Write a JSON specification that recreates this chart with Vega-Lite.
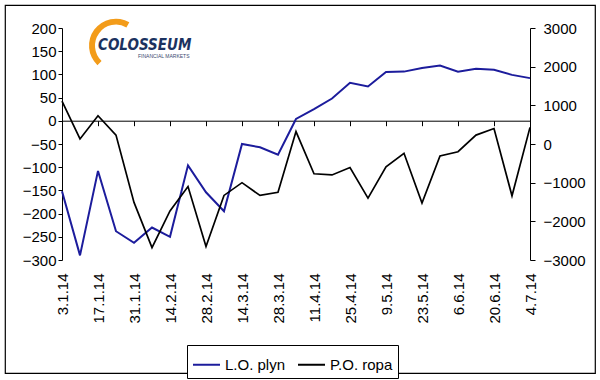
{
  "$schema": "https://vega.github.io/schema/vega-lite/v6.json",
  "width": 590,
  "height": 368,
  "padding": {"left": 5, "top": 5, "right": 5, "bottom": 7},
  "autosize": {"type": "none"},
  "background": "white",
  "config": {
    "view": {"stroke": "black", "strokeWidth": 1.2},
    "font": "Liberation Sans",
    "axis": {"grid": false, "domainColor": "black", "tickColor": "black", "labelColor": "black", "labelFontSize": 15, "labelFont": "Liberation Sans", "title": null, "labelOverlap": false},
    "legend": {"orient": "none", "legendX": 182, "legendY": 340, "direction": "horizontal", "strokeColor": "black", "fillColor": "white", "padding": 5, "symbolType": "stroke", "symbolSize": 729, "symbolStrokeWidth": 2, "labelFontSize": 15, "labelFont": "Liberation Sans", "labelColor": "black", "columnPadding": 8, "labelOffset": 4}
  },
  "data": {"values": [
    {"d": "3.1.14", "lng": -152, "oil": 1110},
    {"d": "10.1.14", "lng": -290, "oil": 130},
    {"d": "17.1.14", "lng": -108, "oil": 730},
    {"d": "24.1.14", "lng": -238, "oil": 230},
    {"d": "31.1.14", "lng": -263, "oil": -1510},
    {"d": "7.2.14", "lng": -230, "oil": -2680},
    {"d": "14.2.14", "lng": -250, "oil": -1730},
    {"d": "21.2.14", "lng": -96, "oil": -1100},
    {"d": "28.2.14", "lng": -154, "oil": -2650},
    {"d": "7.3.14", "lng": -195, "oil": -1330},
    {"d": "14.3.14", "lng": -50, "oil": -1000},
    {"d": "21.3.14", "lng": -57, "oil": -1330},
    {"d": "28.3.14", "lng": -73, "oil": -1250},
    {"d": "4.4.14", "lng": 4, "oil": 320},
    {"d": "11.4.14", "lng": 25, "oil": -770},
    {"d": "18.4.14", "lng": 48, "oil": -800},
    {"d": "25.4.14", "lng": 82, "oil": -610},
    {"d": "2.5.14", "lng": 74, "oil": -1400},
    {"d": "9.5.14", "lng": 105, "oil": -590},
    {"d": "16.5.14", "lng": 106, "oil": -240},
    {"d": "23.5.14", "lng": 114, "oil": -1530},
    {"d": "30.5.14", "lng": 119, "oil": -310},
    {"d": "6.6.14", "lng": 106, "oil": -200},
    {"d": "13.6.14", "lng": 112, "oil": 230},
    {"d": "20.6.14", "lng": 110, "oil": 400},
    {"d": "27.6.14", "lng": 99, "oil": -1340},
    {"d": "4.7.14", "lng": 92, "oil": 430}
  ]},
  "layer": [
    {
      "layer": [
        {
          "mark": {"type": "line", "strokeWidth": 2},
          "encoding": {
            "x": {"field": "d", "type": "ordinal", "sort": null,
              "scale": {"type": "point", "range": [57, 525], "padding": 0, "domain": ["3.1.14","10.1.14","17.1.14","24.1.14","31.1.14","7.2.14","14.2.14","21.2.14","28.2.14","7.3.14","14.3.14","21.3.14","28.3.14","4.4.14","11.4.14","18.4.14","25.4.14","2.5.14","9.5.14","16.5.14","23.5.14","30.5.14","6.6.14","13.6.14","20.6.14","27.6.14","4.7.14"]},
              "axis": {"orient": "bottom", "offset": -252.3, "labels": false, "tickSize": 5, "values": ["3.1.14","17.1.14","31.1.14","14.2.14","28.2.14","14.3.14","28.3.14","11.4.14","25.4.14","9.5.14","23.5.14","6.6.14","20.6.14","4.7.14"]}},
            "y": {"field": "lng", "type": "quantitative", "scale": {"domain": [-300, 200], "range": [255, 23], "nice": false, "zero": false},
              "axis": {"orient": "left", "offset": -57, "labelOverlap": false, "values": [-300,-250,-200,-150,-100,-50,0,50,100,150,200], "tickSize": 4, "labelPadding": 2}},
            "color": {"datum": "L.O. plyn", "type": "nominal", "scale": {"domain": ["L.O. plyn", "P.O. ropa"], "range": ["#1c1c9c", "#000000"]}, "legend": {"title": null}}
          }
        },
        {
          "transform": [{"filter": "datum.d === '24.1.14'"}],
          "mark": {"type": "arc", "theta": 3.9, "theta2": 6.8, "innerRadius": 21, "outerRadius": 27, "color": "#f39c1a"},
          "encoding": {
            "x": {"field": "d", "type": "ordinal", "sort": null,
              "axis": {"orient": "bottom", "offset": -252.3, "labels": false, "tickSize": 5, "values": ["3.1.14","17.1.14","31.1.14","14.2.14","28.2.14","14.3.14","28.3.14","11.4.14","25.4.14","9.5.14","23.5.14","6.6.14","20.6.14","4.7.14"]}},
            "y": {"datum": 162, "type": "quantitative",
              "axis": {"orient": "left", "offset": -57, "labelOverlap": false, "values": [-300,-250,-200,-150,-100,-50,0,50,100,150,200], "tickSize": 4, "labelPadding": 2}}
          }
        },
        {
          "transform": [{"filter": "datum.d === '17.1.14'"}],
          "mark": {"type": "text", "font": "DejaVu Sans Condensed, Liberation Sans, sans-serif", "fontWeight": "bold", "fontStyle": "italic", "fontSize": 15, "color": "#1b3260", "align": "left", "baseline": "alphabetic"},
          "encoding": {
            "x": {"field": "d", "type": "ordinal", "sort": null,
              "axis": {"orient": "bottom", "offset": -252.3, "labels": false, "tickSize": 5, "values": ["3.1.14","17.1.14","31.1.14","14.2.14","28.2.14","14.3.14","28.3.14","11.4.14","25.4.14","9.5.14","23.5.14","6.6.14","20.6.14","4.7.14"]}},
            "y": {"datum": 153, "type": "quantitative",
              "axis": {"orient": "left", "offset": -57, "labelOverlap": false, "values": [-300,-250,-200,-150,-100,-50,0,50,100,150,200], "tickSize": 4, "labelPadding": 2}},
            "text": {"value": "COLOSSEUM"}
          }
        },
        {
          "transform": [{"filter": "datum.d === '17.1.14'"}],
          "mark": {"type": "text", "fontSize": 5, "color": "#3a4a70", "align": "left", "baseline": "alphabetic", "dx": 40},
          "encoding": {
            "x": {"field": "d", "type": "ordinal", "sort": null,
              "axis": {"orient": "bottom", "offset": -252.3, "labels": false, "tickSize": 5, "values": ["3.1.14","17.1.14","31.1.14","14.2.14","28.2.14","14.3.14","28.3.14","11.4.14","25.4.14","9.5.14","23.5.14","6.6.14","20.6.14","4.7.14"]}},
            "y": {"datum": 135, "type": "quantitative",
              "axis": {"orient": "left", "offset": -57, "labelOverlap": false, "values": [-300,-250,-200,-150,-100,-50,0,50,100,150,200], "tickSize": 4, "labelPadding": 2}},
            "text": {"value": "FINANCIAL MARKETS"}
          }
        }
      ]
    },
    {
      "mark": {"type": "line", "strokeWidth": 1.7},
      "encoding": {
        "x": {"field": "d", "type": "ordinal", "sort": null,
          "axis": {"orient": "bottom", "offset": -113, "domain": false, "ticks": false, "tickSize": 0, "labelAngle": -90, "labelPadding": 13, "values": ["3.1.14","17.1.14","31.1.14","14.2.14","28.2.14","14.3.14","28.3.14","11.4.14","25.4.14","9.5.14","23.5.14","6.6.14","20.6.14","4.7.14"]}},
        "y": {"field": "oil", "type": "quantitative", "scale": {"domain": [-3000, 3000], "range": [255, 23], "nice": false, "zero": false},
          "axis": {"orient": "right", "offset": -65, "format": "d", "values": [-3000,-2000,-1000,0,1000,2000,3000], "tickSize": 5, "labelPadding": 8}},
        "color": {"datum": "P.O. ropa", "type": "nominal", "legend": {"title": null}}
      }
    }
  ],
  "resolve": {"scale": {"y": "independent"}, "axis": {"x": "independent", "y": "independent"}}
}
